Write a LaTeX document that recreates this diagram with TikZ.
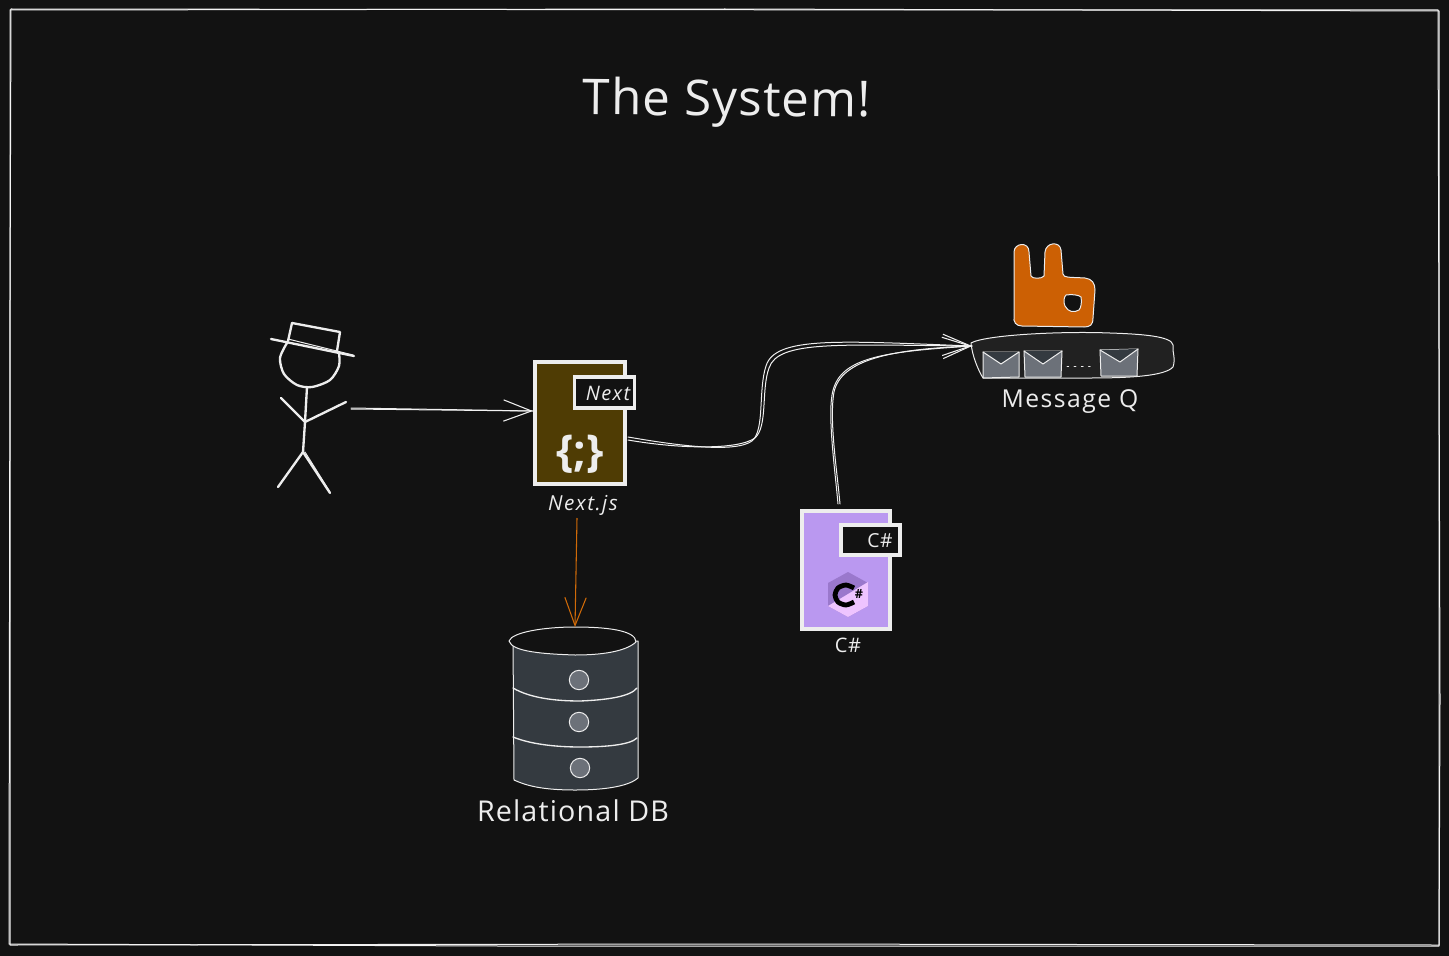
\documentclass[tikz,border=0pt]{standalone}
\usepackage{fontspec}
\setmainfont{Open Sans}
\usetikzlibrary{arrows.meta}
\definecolor{bgc}{HTML}{121212}
\definecolor{ink}{HTML}{EDEDED}
\definecolor{brownfill}{HTML}{4F3C04}
\definecolor{purplefill}{HTML}{BA98F0}
\definecolor{orangefill}{HTML}{CC6004}
\definecolor{orangeline}{HTML}{D06A08}
\definecolor{dbfill}{HTML}{343A40}
\definecolor{dotfill}{HTML}{6C7179}
\definecolor{qfill}{HTML}{212121}
\definecolor{hexdark}{HTML}{9A78CC}
\definecolor{hexlight}{HTML}{EEC4FF}
\tikzset{
  x=0.75pt,y=-0.75pt,
  thin ink/.style={draw=ink,line width=0.75pt,line cap=round,line join=round},
  mid ink/.style={draw=ink,line width=1.75pt,line cap=round,line join=round},
  barb/.style={-{Straight Barb[length=21pt,width=16pt,line width=0.8pt]}},
  servicebox/.style={draw=ink,line width=3pt,inner sep=0pt,outer sep=0pt,anchor=north west},
  tagbox/.style={draw=ink,line width=2.8pt,fill=bgc,inner sep=0pt,outer sep=0pt},
  label text/.style={text=ink,inner sep=0pt},
  envelope/.style={thin ink,fill=dotfill},
  flap/.style={thin ink,fill=dbfill},
}
\begin{document}
\begin{tikzpicture}
\useasboundingbox (0,0) rectangle (1449,956);
\fill[bgc] (0,0) rectangle (1449,956);
% frame
\draw[thin ink,draw=ink!85] (10,10) -- (725,9) -- (1439,11) -- (1439,945) -- (730,944) -- (10,945) -- cycle;
\draw[thin ink,draw=ink!60] (11,9) -- (1000,10) -- (1438,10) -- (1440,700) -- (1439,946) -- (500,946) -- (9,944) -- (10,300) -- cycle;
% title
\node[label text,font=\fontsize{37pt}{40pt}\selectfont\addfontfeature{LetterSpace=2.4},rotate=-0.5] (title) at (727,103) {The System!};
% person
\coordinate (personhand) at (351,408);
\draw[mid ink] (292,323) -- (340,332) -- (337,351);
\draw[mid ink] (292,323) -- (288,341);
\draw[mid ink] (271,339) -- (354,356);
\draw[thin ink] (288,339) -- (353,355);
\draw[mid ink] plot[smooth] coordinates {(287,343) (280,358) (284,374) (297,385) (312,387) (330,380) (339,366) (339,353)};
\draw[mid ink] (307,387) -- (305,422) -- (303,452);
\draw[mid ink] (281,398) -- (305,422) -- (346,402);
\draw[mid ink] (278,487) -- (303,452) -- (330,493);
\draw[thin ink] (305,452) -- (330,492);
% Next box
\node[servicebox,fill=brownfill,minimum width=68pt,minimum height=91.5pt] (nextbox) at (534.5,361.5) {};
\node[tagbox,minimum width=45pt,minimum height=23.5pt] (nexttag) at (604.5,392.5) {};
\node[label text,font=\fontsize{15pt}{16pt}\selectfont\itshape\addfontfeature{LetterSpace=7}] (nexttext) at (608,393) {Next};
\node[label text,font=\fontsize{33pt}{35pt}\selectfont\bfseries] (nexticon) at (580,454) {\{;\}};
\node[label text,font=\fontsize{15.5pt}{17pt}\selectfont\itshape\addfontfeature{LetterSpace=7}] (nextlabel) at (583,505) {Next.js};
% arrow person -> next
\coordinate (nextleft) at (533,411);
\draw[thin ink,barb] (personhand) -- (nextleft);
\draw[thin ink,draw=ink!70] (personhand) ++(0,1) -- (nextleft);
% Message queue
\draw[thin ink,fill=qfill] (971,343) .. controls (985,335) and (1060,331) .. (1110,333) .. controls (1140,334) and (1172,336) .. (1173,345) .. controls (1172,352) and (1176,358) .. (1173,367) .. controls (1165,376) and (1130,378) .. (1090,378) -- (983,378) .. controls (978,370) and (972,355) .. (971,343) -- cycle;
\draw[envelope] (983,352) -- (1019,352) -- (1019,377) -- (983,378) -- cycle;
\fill[dbfill] (983,352) -- (1001,364) -- (1019,352) -- cycle;
\draw[thin ink] (983,352) -- (1001,364) -- (1019,352);
\draw[envelope] (1024,351) -- (1062,351) -- (1061,377) -- (1025,377) -- cycle;
\fill[dbfill] (1024,351) -- (1043,364) -- (1062,351) -- cycle;
\draw[thin ink] (1024,351) -- (1043,364) -- (1062,351);
\draw[envelope] (1100,350) -- (1138,349) -- (1137,376) -- (1101,376) -- cycle;
\fill[dbfill] (1100,350) -- (1120,362) -- (1138,349) -- cycle;
\draw[thin ink] (1100,350) -- (1120,362) -- (1138,349);
\draw[thin ink,dash pattern=on 1.2pt off 4.2pt] (1067,366) -- (1095,366);
\node[label text,font=\fontsize{18.5pt}{20pt}\selectfont\addfontfeature{LetterSpace=6}] (mqlabel) at (1070,402) {Message Q};
% rabbit
\draw[thin ink,fill=orangefill,even odd rule]
  (1014,316) -- (1014,252) .. controls (1014,243) and (1029,241) .. (1029,252)
  -- (1031,276) .. controls (1032,279) and (1042,279) .. (1044,276)
  -- (1045,252) .. controls (1046,242) and (1060,241) .. (1061,250)
  -- (1063,274) .. controls (1064,278) and (1068,277) .. (1085,278)
  .. controls (1092,279) and (1095,283) .. (1095,290)
  -- (1093,318) .. controls (1093,325) and (1090,327) .. (1084,327)
  -- (1022,326) .. controls (1016,326) and (1013,322) .. (1014,316) -- cycle
  (1066,295) .. controls (1072,294) and (1079,295) .. (1081,297) .. controls (1082,302) and (1081,308) .. (1079,310) .. controls (1074,313) and (1068,312) .. (1065,306) .. controls (1063,302) and (1064,297) .. (1066,295) -- cycle;
% C# box
\node[servicebox,fill=purplefill,minimum width=66pt,minimum height=88.5pt] (csbox) at (802,510.5) {};
\node[tagbox,minimum width=44pt,minimum height=23pt] (cstag) at (870.5,540) {};
\node[label text,font=\fontsize{14.5pt}{15pt}\selectfont\addfontfeature{LetterSpace=3}] (cstext) at (880,541) {C\#};
\fill[hexdark] (848,572) -- (868,583) -- (868,606) -- (848,617) -- (828,606) -- (828,583) -- cycle;
\fill[hexlight] (868,582) -- (868,606) -- (848,617) -- (828,606) -- cycle;
\draw[black,line width=3.6pt] plot[smooth] coordinates {(854,588) (846,585) (838,588) (835,595) (838,602) (846,605) (854,602)};
\node[text=black,inner sep=0pt,font=\fontsize{9.5pt}{9pt}\selectfont\bfseries] (cshash) at (859,593.5) {\#};
\node[label text,font=\fontsize{15pt}{16pt}\selectfont\addfontfeature{LetterSpace=3}] (cslabel) at (848,645) {C\#};
% connectors to the queue
\coordinate (nextout) at (628,437);
\coordinate (csout) at (838,504);
\coordinate (mqin) at (972,346);
\draw[thin ink,barb] (nextout) .. controls (680,446) and (735,453) .. (752,441) .. controls (765,430) and (758,390) .. (766,366) .. controls (775,336) and (840,341) .. (mqin);
\draw[thin ink,draw=ink!70] (nextout) ++(0,3) .. controls (680,449) and (738,450) .. (755,438) .. controls (768,426) and (761,390) .. (769,368) .. controls (778,340) and (840,345) .. (mqin);
\draw[thin ink,barb] (csout) .. controls (835,470) and (828,420) .. (832,395) .. controls (838,358) and (880,352) .. (mqin);
\draw[thin ink,draw=ink!70] (csout) ++(2,0) .. controls (837,470) and (829,420) .. (834,392) .. controls (841,360) and (890,349) .. (mqin);
% Database
\coordinate (dbtop) at (575,627);
\draw[thin ink,fill=dbfill] (513,641) -- (514,780) .. controls (525,785) and (540,790) .. (575,790) .. controls (610,790) and (630,785) .. (638,778) -- (638,641) -- cycle;
\draw[thin ink,fill=bgc] (509,641) .. controls (512,632) and (545,627) .. (575,627) .. controls (605,627) and (636,630) .. (636,642) .. controls (625,652) and (600,655) .. (575,655) .. controls (545,654) and (512,652) .. (509,641) -- cycle;
\draw[thin ink,line width=1pt] (513,688) .. controls (530,698) and (555,701) .. (580,701) .. controls (605,700) and (630,697) .. (637,688);
\draw[thin ink,line width=1pt] (513,737) .. controls (530,744) and (555,747) .. (580,747) .. controls (605,747) and (630,745) .. (637,738);
\node[thin ink,circle,fill=dotfill,minimum size=14.5pt,inner sep=0pt] (dot1) at (579,680) {};
\node[thin ink,circle,fill=dotfill,minimum size=14.5pt,inner sep=0pt] (dot2) at (579,722) {};
\node[thin ink,circle,fill=dotfill,minimum size=14.5pt,inner sep=0pt] (dot3) at (580,768) {};
\node[label text,font=\fontsize{21.5pt}{23pt}\selectfont\addfontfeature{LetterSpace=4}] (dblabel) at (573,811) {Relational DB};
\coordinate (nextdown) at (577,518);
\draw[draw=orangeline,line width=0.8pt,barb] (nextdown) -- (dbtop);
\end{tikzpicture}
\end{document}
